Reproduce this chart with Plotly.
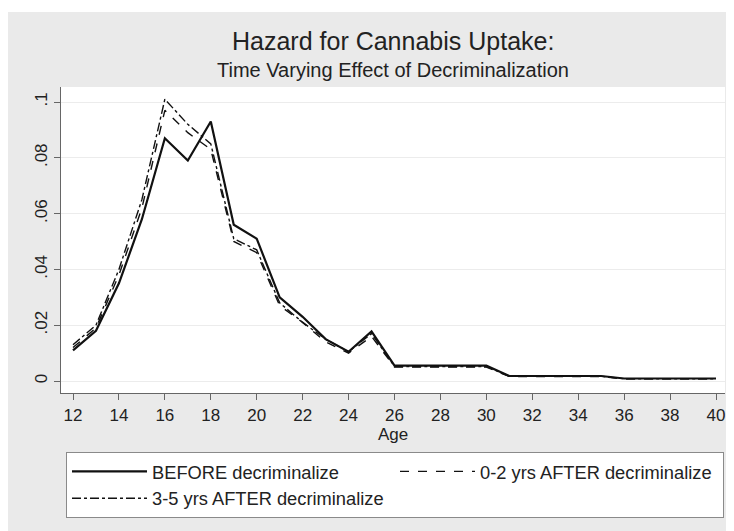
import plotly.graph_objects as go

ages = list(range(12, 41))
before = [0.011, 0.018, 0.035, 0.058, 0.087, 0.079, 0.093, 0.056, 0.051, 0.030,
          0.023, 0.015, 0.0105, 0.0178, 0.0055, 0.0055, 0.0055, 0.0055, 0.0055, 0.0018,
          0.0018, 0.0018, 0.0018, 0.0018, 0.0009, 0.0009, 0.0009, 0.0009, 0.0009]
after_0_2 = [0.012, 0.019, 0.038, 0.062, 0.097, 0.089, 0.083, 0.050, 0.046, 0.027,
             0.021, 0.014, 0.010, 0.016, 0.005, 0.005, 0.005, 0.005, 0.005, 0.0016,
             0.0016, 0.0016, 0.0016, 0.0016, 0.0008, 0.0008, 0.0008, 0.0008, 0.0008]
after_3_5 = [0.013, 0.020, 0.040, 0.065, 0.101, 0.092, 0.085, 0.051, 0.047, 0.028,
             0.021, 0.015, 0.0105, 0.017, 0.0052, 0.0052, 0.0052, 0.0052, 0.0052, 0.0017,
             0.0017, 0.0017, 0.0017, 0.0017, 0.0008, 0.0008, 0.0008, 0.0008, 0.0008]

series_names = ["BEFORE decriminalize", "0-2 yrs AFTER decriminalize", "3-5 yrs AFTER decriminalize"]
x_ticks = list(range(12, 41, 2))
y_ticks = [0, 0.02, 0.04, 0.06, 0.08, 0.1]
y_tick_labels = ["0", ".02", ".04", ".06", ".08", ".1"]

title = "Hazard for Cannabis Uptake:"
subtitle = "Time Varying Effect of Decriminalization"

FONT = "Liberation Sans, Arial, Helvetica, sans-serif"
OFF = 8  # page body margin
W, H = 734 - OFF, 531 - OFF
L, R, T, B = 53, 9, 79, 138
pw, ph = W - L - R, H - T - B


def px_x(page_x):
    return (page_x - OFF - L) / pw


def px_y(page_y):
    return (H - B - (page_y - OFF)) / ph


fig = go.Figure()
fig.add_trace(go.Scatter(x=ages, y=before, mode="lines", name=series_names[0],
                         line=dict(color="#111111", width=2.2)))
fig.add_trace(go.Scatter(x=ages, y=after_0_2, mode="lines", name=series_names[1],
                         line=dict(color="#111111", width=1.4, dash="dash")))
fig.add_trace(go.Scatter(x=ages, y=after_3_5, mode="lines", name=series_names[2],
                         line=dict(color="#111111", width=1.4, dash="dashdot")))

fig.update_layout(
    width=W, height=H,
    margin=dict(l=L, r=R, t=T, b=B, pad=0, autoexpand=False),
    paper_bgcolor="white", plot_bgcolor="white",
    font=dict(family=FONT, color="#222222", size=17),
    showlegend=True,
    legend=dict(orientation="h", x=px_x(66), xanchor="left", y=px_y(452), yanchor="top",
                entrywidth=238, entrywidthmode="pixels", itemwidth=75,
                bgcolor="white", bordercolor="#8a8a8a", borderwidth=1,
                font=dict(size=18.3, family=FONT, color="#222222"),
                traceorder="normal", tracegroupgap=0),
    shapes=[
        dict(type="rect", xref="paper", yref="paper", layer="below",
             x0=px_x(0), x1=px_x(760), y0=px_y(560), y1=px_y(12),
             fillcolor="#eaeaea", line=dict(width=0)),
        dict(type="rect", xref="paper", yref="paper", layer="below",
             x0=0, x1=1, y0=0, y1=1, fillcolor="white", line=dict(width=0)),
    ],
    annotations=[
        dict(text=title, xref="paper", yref="paper", x=0.5, y=px_y(41), xanchor="center",
             yanchor="middle", showarrow=False, font=dict(size=25, family=FONT, color="#222222")),
        dict(text=subtitle, xref="paper", yref="paper", x=0.5, y=px_y(70), xanchor="center",
             yanchor="middle", showarrow=False, font=dict(size=20, family=FONT, color="#222222")),
    ],
)

fig.update_xaxes(range=[12 - 12 / 22.964, 40 + 9 / 22.964], tickvals=x_ticks,
                 showgrid=False, zeroline=False, showline=True, linecolor="#666666", linewidth=1,
                 ticks="outside", ticklen=6, tickcolor="#666666", ticklabelstandoff=1,
                 tickfont=dict(size=17, family=FONT, color="#222222"),
                 title=dict(text="Age", standoff=0, font=dict(size=17, family=FONT, color="#222222")))
fig.update_yaxes(range=[-12 / 2790, 294 / 2790], tickvals=y_ticks, ticktext=y_tick_labels,
                 tickangle=-90, showgrid=True, gridcolor="#ececec", gridwidth=1,
                 zeroline=False, showline=True, linecolor="#666666", linewidth=1,
                 ticks="outside", ticklen=6, tickcolor="#666666", ticklabelstandoff=0,
                 tickfont=dict(size=17, family=FONT, color="#222222"))

fig.write_html("out.html")
